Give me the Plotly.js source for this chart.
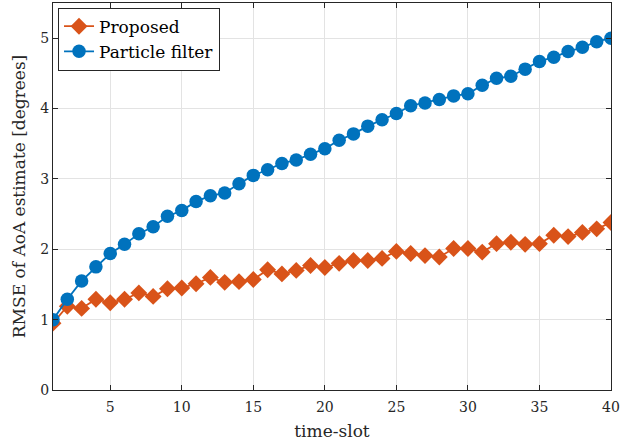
<!DOCTYPE html>
<html>
<head>
<meta charset="utf-8">
<script src="https://cdn.plot.ly/plotly-3.0.1.min.js"></script>
<style>html,body{margin:0;padding:0;background:#fff}#chart{width:635px;height:445px}</style>
</head>
<body>
<div id="chart"></div>
<script>
const timeSlots = [1,2,3,4,5,6,7,8,9,10,11,12,13,14,15,16,17,18,19,20,21,22,23,24,25,26,27,28,29,30,31,32,33,34,35,36,37,38,39,40];
const proposed = [0.95,1.19,1.16,1.29,1.24,1.29,1.38,1.33,1.44,1.45,1.51,1.60,1.53,1.54,1.57,1.71,1.65,1.70,1.77,1.74,1.80,1.84,1.84,1.87,1.97,1.94,1.91,1.89,2.01,2.01,1.96,2.08,2.10,2.07,2.08,2.20,2.18,2.24,2.29,2.38];
const particleFilter = [1.00,1.29,1.55,1.75,1.94,2.07,2.22,2.32,2.47,2.55,2.68,2.76,2.80,2.93,3.05,3.13,3.22,3.27,3.35,3.43,3.55,3.64,3.75,3.84,3.93,4.04,4.08,4.13,4.18,4.21,4.33,4.43,4.46,4.56,4.67,4.73,4.81,4.87,4.95,5.00];
const xTicks = [5,10,15,20,25,30,35,40];
const yTicks = [0,1,2,3,4,5];

const serif = "'DejaVu Serif', serif";
const traces = [
  {x: timeSlots, y: proposed, name: 'Proposed', mode: 'lines+markers',
   line: {color: '#D95319', width: 1.8},
   marker: {symbol: 'diamond', size: 13, color: '#D95319'}},
  {x: timeSlots, y: particleFilter, name: 'Particle filter', mode: 'lines+markers',
   line: {color: '#0072BD', width: 1.8},
   marker: {symbol: 'circle', size: 13.5, color: '#0072BD'}}
];
const axisCommon = {
  showline: true, linecolor: '#262626', linewidth: 1, mirror: 'ticks',
  ticks: 'inside', ticklen: 5, tickcolor: '#262626',
  showgrid: true, gridcolor: '#e3e3e3', gridwidth: 1, zeroline: false,
  tickfont: {family: serif, size: 14, color: '#262626'}
};
const layout = {
  width: 635, height: 445,
  margin: {l: 53, r: 24, t: 3, b: 55},
  paper_bgcolor: '#fff', plot_bgcolor: '#fff',
  font: {family: serif, color: '#262626'},
  xaxis: Object.assign({}, axisCommon, {
    range: [1, 40], tickvals: xTicks, ticktext: xTicks.map(String), ticklabelstandoff: 4,
    title: {text: 'time-slot', font: {family: serif, size: 17, color: '#262626'}, standoff: 11}
  }),
  yaxis: Object.assign({}, axisCommon, {
    range: [0, 5.5], tickvals: yTicks, ticktext: yTicks.map(String),
    title: {text: 'RMSE of AoA estimate [degrees]', font: {family: serif, size: 17, color: '#262626'}, standoff: 10}
  }),
  showlegend: true,
  legend: {x: 0.009, y: 0.988, xanchor: 'left', yanchor: 'top',
    bgcolor: '#fff', bordercolor: '#262626', borderwidth: 1,
    font: {family: serif, size: 17, color: '#000'},
    tracegroupgap: 0, itemwidth: 30}
};
Plotly.newPlot('chart', traces, layout, {displayModeBar: false, staticPlot: true});
</script>
</body>
</html>
